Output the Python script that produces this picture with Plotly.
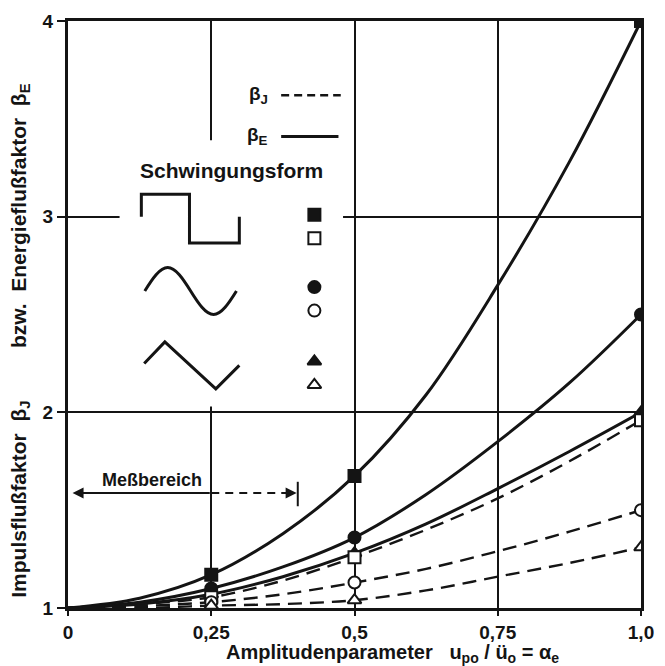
import plotly.graph_objects as go

# ---------------- data ----------------
X = [0, 0.125, 0.25, 0.375, 0.5, 0.625, 0.75, 0.875, 1.0]

# beta_E (solid lines)
bE_rect = [1.0, 1.05, 1.17, 1.38, 1.675, 2.09, 2.65, 3.28, 4.0]
bE_sine = [1.0, 1.03, 1.10, 1.21, 1.36, 1.58, 1.85, 2.15, 2.50]
bE_tri = [1.0, 1.02, 1.07, 1.16, 1.28, 1.43, 1.61, 1.80, 2.00]
# beta_J (dashed lines)
bJ_rect = [1.0, 1.02, 1.055, 1.14, 1.26, 1.40, 1.56, 1.75, 1.96]
bJ_sine = [1.0, 1.01, 1.03, 1.07, 1.13, 1.20, 1.29, 1.39, 1.50]
bJ_tri = [1.0, 1.0, 1.012, 1.02, 1.04, 1.09, 1.16, 1.23, 1.31]

MARK_IDX = [2, 4, 8]  # measured points at 0.25, 0.5, 1.0

x_ticks = [0, 0.25, 0.5, 0.75, 1.0]
x_ticktext = ["0", "0,25", "0,5", "0,75", "1,0"]
y_ticks = [1, 2, 3, 4]
y_ticktext = ["1", "2", "3", "4"]

# ---------------- styling ----------------
INK = "#141414"
FONT = "Liberation Sans, Arial, sans-serif"

fig = go.Figure()

series = [
    (bE_rect, "solid", "square", INK),
    (bE_sine, "solid", "circle", INK),
    (bE_tri, "solid", "triangle-up", INK),
    (bJ_rect, "dash", "square", "white"),
    (bJ_sine, "dash", "circle", "white"),
    (bJ_tri, "dash", "triangle-up", "white"),
]

for ys, style, sym, fill in series:
    fig.add_trace(go.Scatter(
        x=X, y=ys, mode="lines",
        line=dict(color=INK, width=3 if style == "solid" else 2.4,
                  dash="solid" if style == "solid" else "14px,8px",
                  shape="spline", smoothing=1.0),
        hoverinfo="skip", showlegend=False))

for ys, style, sym, fill in series:
    fig.add_trace(go.Scatter(
        x=[X[i] for i in MARK_IDX], y=[ys[i] for i in MARK_IDX], mode="markers",
        marker=dict(symbol=sym, size=12, color=fill, line=dict(color=INK, width=2)),
        hoverinfo="skip", showlegend=False))

# legend marker column
LEG_X = 0.43
LEG_Y = [3.01, 2.89, 2.64, 2.52, 2.26, 2.14]
leg_syms = [("square", INK), ("square", "white"), ("circle", INK),
            ("circle", "white"), ("triangle-up", INK), ("triangle-up", "white")]
for (sym, fill), ly in zip(leg_syms, LEG_Y):
    fig.add_trace(go.Scatter(
        x=[LEG_X], y=[ly], mode="markers",
        marker=dict(symbol=sym, size=12, color=fill, line=dict(color=INK, width=2)),
        hoverinfo="skip", showlegend=False))

shapes = []
# white box behind the legend that interrupts gridlines
shapes.append(dict(type="rect", xref="x", yref="y", x0=0.09, x1=0.48, y0=2.03, y1=3.39,
                   fillcolor="white", line=dict(width=0), layer="between"))
# legend line keys
shapes.append(dict(type="line", xref="x", yref="y", x0=0.372, x1=0.476, y0=3.62, y1=3.62,
                   line=dict(color=INK, width=2.5, dash="8px,5px")))
shapes.append(dict(type="line", xref="x", yref="y", x0=0.372, x1=0.472, y0=3.41, y1=3.41,
                   line=dict(color=INK, width=3)))

# waveform icons
shapes.append(dict(type="path", xref="x", yref="y",
                   path="M 0.128,3.0 L 0.128,3.115 L 0.212,3.115 L 0.212,2.865 L 0.299,2.865 L 0.299,3.0",
                   line=dict(color=INK, width=3)))


def sine_path(x0, c, q, a):
    p = f"M {x0},{c}"
    sign = 1
    x = x0
    for k in range(4):
        if k % 2 == 0:
            p += f" C {x + 0.326*q},{c + sign*0.5122*a} {x + 0.657*q},{c + sign*a} {x + q},{c + sign*a}"
        else:
            p += f" C {x + 0.343*q},{c + sign*a} {x + 0.674*q},{c + sign*0.5122*a} {x + q},{c}"
            sign = -sign
        x += q
    return p


shapes.append(dict(type="path", xref="x", yref="y", path=sine_path(0.134, 2.62, 0.04, 0.12),
                   line=dict(color=INK, width=3)))
shapes.append(dict(type="path", xref="x", yref="y",
                   path="M 0.133,2.25 L 0.169,2.36 L 0.258,2.12 L 0.299,2.24",
                   line=dict(color=INK, width=3)))

# Messbereich: dashed part and end bar
shapes.append(dict(type="line", xref="x", yref="y", x0=0.25, x1=0.385, y0=1.588, y1=1.588,
                   line=dict(color=INK, width=2, dash="8px,6px")))
shapes.append(dict(type="line", xref="x", yref="y", x0=0.401, x1=0.401, y0=1.52, y1=1.645,
                   line=dict(color=INK, width=2)))

annotations = [
    dict(x=0.008, y=1.588, ax=0.25, ay=1.588, xref="x", yref="y", axref="x", ayref="y",
         text="", showarrow=True, arrowhead=2, arrowsize=1.1, arrowwidth=2, arrowcolor=INK),
    dict(x=0.399, y=1.588, ax=0.375, ay=1.588, xref="x", yref="y", axref="x", ayref="y",
         text="", showarrow=True, arrowhead=2, arrowsize=1.1, arrowwidth=2, arrowcolor=INK),
    dict(x=0.147, y=1.655, xref="x", yref="y", text="Meßbereich", showarrow=False,
         font=dict(family=FONT, size=18, color=INK, weight="bold")),
    dict(x=0.285, y=3.235, xref="x", yref="y", text="Schwingungsform", showarrow=False,
         font=dict(family=FONT, size=21, color=INK, weight="bold")),
    dict(x=0.352, y=3.62, xref="x", yref="y", xanchor="right", text="β<sub>J</sub>", showarrow=False,
         font=dict(family=FONT, size=19, color=INK, weight="bold")),
    dict(x=0.352, y=3.41, xref="x", yref="y", xanchor="right", text="β<sub>E</sub>", showarrow=False,
         font=dict(family=FONT, size=19, color=INK, weight="bold")),
    dict(x=0.567, y=-0.077, xref="paper", yref="paper", xanchor="center", yanchor="middle",
         text="Amplitudenparameter\u00a0\u00a0 u<sub>po</sub> / ü<sub>o</sub> = α<sub>e</sub>",
         showarrow=False, font=dict(family=FONT, size=20, color=INK, weight="bold")),
    dict(x=-0.084, y=0.455, xref="paper", yref="paper", xanchor="center", yanchor="middle",
         textangle=-90,
         text="Impulsflußfaktor\u00a0 β<sub>J</sub>\u00a0\u00a0\u00a0\u00a0\u00a0\u00a0\u00a0\u00a0 bzw.\u00a0 Energieflußfaktor\u00a0 β<sub>E</sub>",
         showarrow=False, font=dict(family=FONT, size=21, color=INK, weight="bold")),
]

axis_common = dict(showline=True, linewidth=3, linecolor=INK, mirror=True,
                   showgrid=True, gridcolor=INK, gridwidth=2, zeroline=False,
                   ticks="outside", tickwidth=2, tickcolor=INK,
                   tickfont=dict(family=FONT, size=19, color=INK, weight="bold"))

fig.update_layout(
    width=665, height=666,
    margin=dict(l=68, r=11, t=21, b=58),
    paper_bgcolor="white", plot_bgcolor="white",
    xaxis=dict(range=[0, 1], tickvals=x_ticks, ticktext=x_ticktext, ticklen=5, **axis_common),
    yaxis=dict(range=[1, 4], tickvals=y_ticks, ticktext=y_ticktext, ticklen=8, **axis_common),
    shapes=shapes, annotations=annotations, showlegend=False,
)

fig.write_html("out.html")
